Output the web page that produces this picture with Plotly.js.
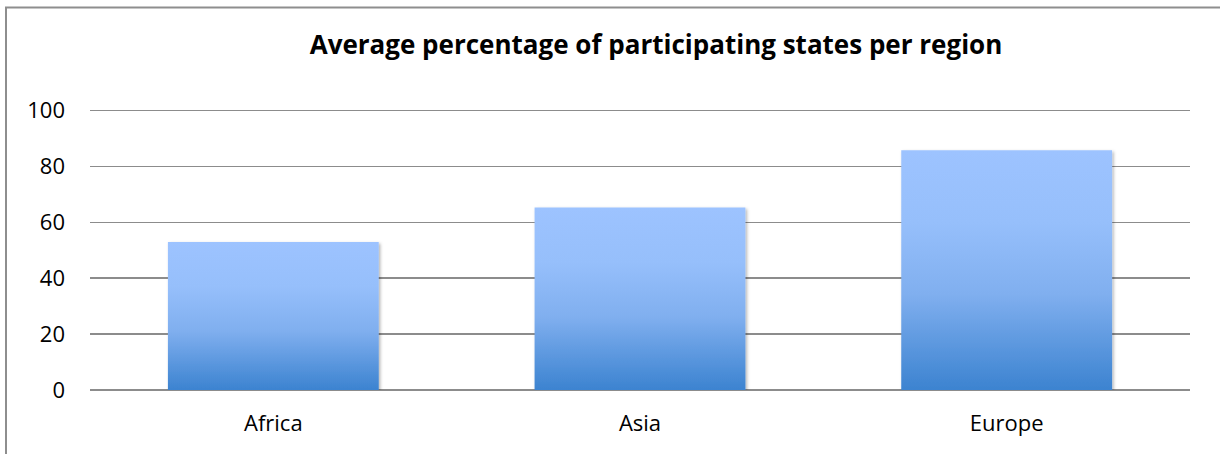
<!DOCTYPE html>
<html>
<head>
<meta charset="utf-8">
<script src="https://cdn.plot.ly/plotly-3.0.1.min.js"></script>
<style>
  html, body { margin: 0; padding: 0; background: #fff; overflow: hidden; }
  #chart { width: 1220px; height: 454px; }
</style>
</head>
<body>
<div id="chart"></div>
<script>
const categories = ['Africa', 'Asia', 'Europe'];
const values = [53, 65.3, 85.8];
const yTicks = [0, 20, 40, 60, 80, 100];
const chartTitle = 'Average percentage of participating states per region';

const W = 1220, H = 454;
const M = { l: 90, r: 30, t: 109.3, b: 64 };
const plotW = W - M.l - M.r, plotH = H - M.t - M.b;
// paper-coordinate helpers for the outer frame
const px2paperX = function (px) { return (px - M.l) / plotW; };
const px2paperY = function (py) { return (H - M.b - py) / plotH; };

const trace = {
  type: 'bar',
  x: categories,
  y: values,
  marker: { color: '#84B1F0', line: { width: 0 } },
  hoverinfo: 'x+y'
};

const layout = {
  width: W,
  height: H,
  margin: { l: M.l, r: M.r, t: M.t, b: M.b, pad: 0 },
  paper_bgcolor: '#ffffff',
  plot_bgcolor: '#ffffff',
  showlegend: false,
  bargap: 0.425,
  font: { family: 'Open Sans, sans-serif', color: '#000000', size: 22 },
  title: {
    text: '<b>' + chartTitle + '</b>',
    font: { family: 'Open Sans, sans-serif', size: 26, color: '#000000', weight: 'bold' },
    xref: 'container', x: 656 / W, xanchor: 'center',
    yref: 'container', y: 1 - 45 / H, yanchor: 'middle'
  },
  xaxis: {
    type: 'category',
    showgrid: false,
    showline: false,
    zeroline: false,
    ticks: '',
    ticklabelstandoff: 18,
    tickfont: { size: 22, color: '#000000' }
  },
  yaxis: {
    range: [0, 100.6],
    tickvals: yTicks,
    ticktext: yTicks.map(String),
    showgrid: true,
    gridcolor: '#8c8c8c',
    gridwidth: 1.6,
    zeroline: true,
    zerolinecolor: '#8c8c8c',
    zerolinewidth: 1.6,
    showline: false,
    ticks: '',
    ticklabelstandoff: 24,
    tickfont: { size: 22, color: '#000000' }
  },
  shapes: [
    { type: 'line', xref: 'paper', yref: 'paper', layer: 'above',
      x0: px2paperX(6), x1: px2paperX(6), y0: px2paperY(H + 20), y1: px2paperY(8),
      line: { color: '#8e8e8e', width: 2 } },
    { type: 'line', xref: 'paper', yref: 'paper', layer: 'above',
      x0: px2paperX(5), x1: px2paperX(W + 20), y0: px2paperY(8), y1: px2paperY(8),
      line: { color: '#8e8e8e', width: 2 } }
  ]
};

Plotly.newPlot('chart', [trace], layout, { staticPlot: true, displayModeBar: false }).then(function (gd) {
  const svg = gd.querySelector('svg.main-svg');
  const ns = 'http://www.w3.org/2000/svg';
  let defs = svg.querySelector('defs');
  if (!defs) { defs = document.createElementNS(ns, 'defs'); svg.insertBefore(defs, svg.firstChild); }
  const grad = document.createElementNS(ns, 'linearGradient');
  grad.setAttribute('id', 'barGrad');
  grad.setAttribute('x1', '0'); grad.setAttribute('y1', '0');
  grad.setAttribute('x2', '0'); grad.setAttribute('y2', '1');
  [[0, '#9DC3FF'], [0.3, '#96BFFB'], [0.6, '#80AFEF'], [1, '#3C83D0']].forEach(function (s) {
    const st = document.createElementNS(ns, 'stop');
    st.setAttribute('offset', s[0]);
    st.setAttribute('stop-color', s[1]);
    grad.appendChild(st);
  });
  defs.appendChild(grad);
  const filt = document.createElementNS(ns, 'filter');
  filt.setAttribute('id', 'barShadow');
  filt.setAttribute('x', '-10%'); filt.setAttribute('y', '-10%');
  filt.setAttribute('width', '120%'); filt.setAttribute('height', '120%');
  const ds = document.createElementNS(ns, 'feDropShadow');
  ds.setAttribute('dx', '1.5'); ds.setAttribute('dy', '1.5');
  ds.setAttribute('stdDeviation', '1.5');
  ds.setAttribute('flood-color', '#000'); ds.setAttribute('flood-opacity', '0.3');
  filt.appendChild(ds);
  defs.appendChild(filt);
  gd.querySelectorAll('.trace.bars .point path').forEach(function (p) {
    p.style.fill = 'url(#barGrad)';
    p.style.fillOpacity = '1';
    p.setAttribute('filter', 'url(#barShadow)');
  });
});
</script>
</body>
</html>
